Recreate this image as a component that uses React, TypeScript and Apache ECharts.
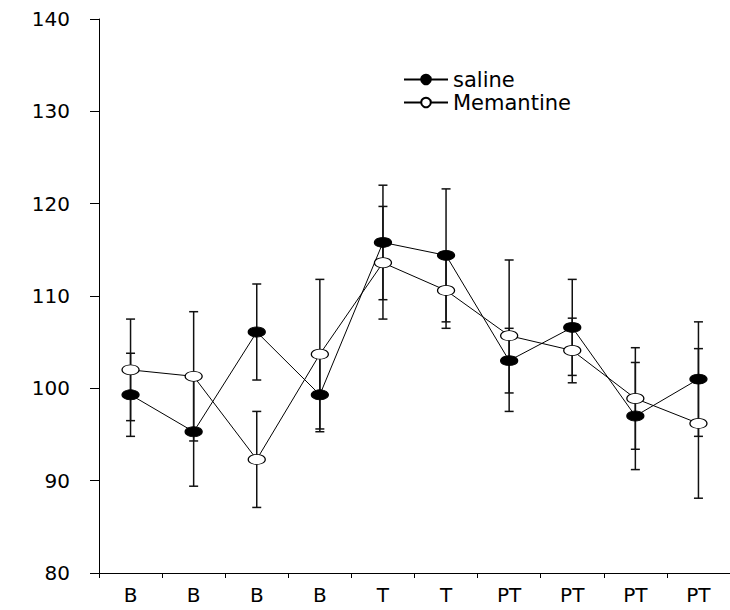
import React, { useEffect, useRef } from 'react';
import * as echarts from 'echarts';

const categories = ['B', 'B', 'B', 'B', 'T', 'T', 'PT', 'PT', 'PT', 'PT'];
const salineMean = [99.3, 95.3, 106.1, 99.3, 115.8, 114.4, 103.0, 106.6, 97.0, 101.0];
const salineErr = [4.5, 5.9, 5.2, 4.0, 6.2, 7.2, 3.5, 5.2, 5.8, 6.2];
const memantineMean = [102.0, 101.3, 92.3, 103.7, 113.6, 110.6, 105.7, 104.1, 98.9, 96.2];
const memantineErr = [5.5, 7.0, 5.2, 8.1, 6.1, 4.1, 8.2, 3.5, 5.5, 8.1];
const yMin = 80;
const yMax = 140;
const yStep = 10;

const FONT = '"DejaVu Sans", "Liberation Sans", Arial, sans-serif';

function errorData(mean: number[], err: number[]) {
  return mean.map((m, i) => [i, m - err[i], m + err[i]]);
}

const renderErrorBar = (_params: any, api: any) => {
  const x = api.value(0);
  const lo = api.coord([x, api.value(1)]);
  const hi = api.coord([x, api.value(2)]);
  const hw = 4.5;
  const style = { stroke: '#111', lineWidth: 1.5 };
  return {
    type: 'group',
    children: [
      { type: 'line', shape: { x1: hi[0], y1: hi[1], x2: lo[0], y2: lo[1] }, style },
      { type: 'line', shape: { x1: hi[0] - hw, y1: hi[1], x2: hi[0] + hw, y2: hi[1] }, style },
      { type: 'line', shape: { x1: lo[0] - hw, y1: lo[1], x2: lo[0] + hw, y2: lo[1] }, style },
    ],
  };
};

export default function App() {
  const ref = useRef<HTMLDivElement>(null);
  useEffect(() => {
    if (!ref.current) return;
    const chart = echarts.init(ref.current, undefined, { renderer: 'svg' });
    chart.setOption({
      animation: false,
      backgroundColor: '#fff',
      textStyle: { fontFamily: FONT },
      legend: {
        data: ['saline', 'Memantine'],
        orient: 'vertical',
        left: 403,
        top: 69,
        padding: 0,
        itemWidth: 44,
        itemHeight: 12,
        itemGap: 2,
        textStyle: { fontSize: 21, color: '#000', fontFamily: FONT },
      },
      grid: { left: 99, top: 19, width: 634, height: 554, containLabel: false },
      xAxis: {
        type: 'category',
        data: categories,
        boundaryGap: true,
        axisLine: { lineStyle: { color: '#000', width: 1 } },
        axisTick: { show: true, length: 5, lineStyle: { color: '#000' } },
        axisLabel: { interval: 0, fontSize: 20, color: '#000', margin: 12, fontFamily: FONT },
        splitLine: { show: false },
      },
      yAxis: {
        type: 'value',
        min: yMin,
        max: yMax,
        interval: yStep,
        axisLine: { show: true, lineStyle: { color: '#000', width: 1 } },
        axisTick: { show: true, length: 9, lineStyle: { color: '#000' } },
        axisLabel: { fontSize: 20, color: '#000', margin: 29, fontFamily: FONT },
        splitLine: { show: false },
      },
      series: [
        {
          type: 'custom',
          name: 'salineErr',
          renderItem: renderErrorBar,
          encode: { x: 0, y: [1, 2] },
          data: errorData(salineMean, salineErr),
          z: 1,
        },
        {
          type: 'custom',
          name: 'memantineErr',
          renderItem: renderErrorBar,
          encode: { x: 0, y: [1, 2] },
          data: errorData(memantineMean, memantineErr),
          z: 1,
        },
        {
          type: 'line',
          name: 'saline',
          data: salineMean,
          symbol: 'circle',
          symbolSize: [17, 10],
          lineStyle: { color: '#000', width: 1 },
          itemStyle: { color: '#000', borderColor: '#000', borderWidth: 1 },
          z: 3,
        },
        {
          type: 'line',
          name: 'Memantine',
          data: memantineMean,
          symbol: 'circle',
          symbolSize: [17, 10],
          lineStyle: { color: '#000', width: 1 },
          itemStyle: { color: '#fff', borderColor: '#000', borderWidth: 1 },
          z: 4,
        },
      ],
    });
    return () => chart.dispose();
  }, []);
  return (
    <div
      ref={ref}
      style={{ position: 'absolute', left: 0, top: 0, width: 730, height: 610, background: '#fff' }}
    />
  );
}
